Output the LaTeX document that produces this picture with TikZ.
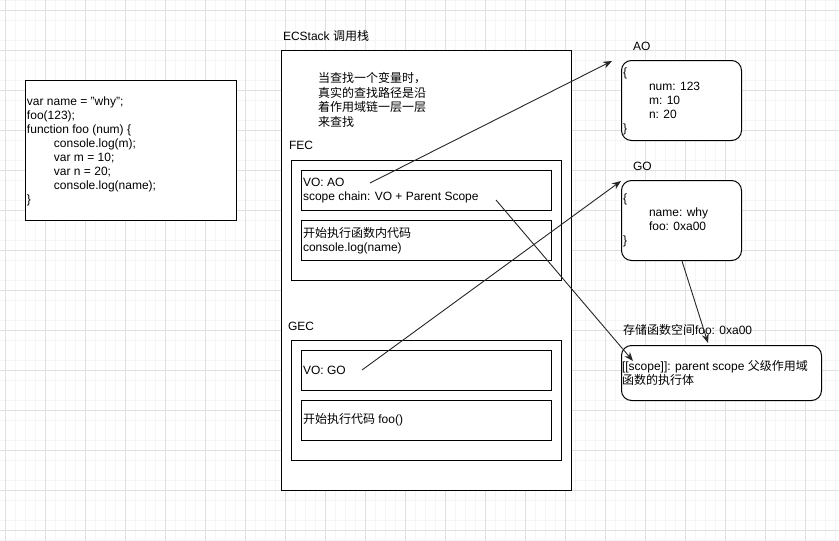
\documentclass[tikz,border=0pt]{standalone}
\usepackage{fontspec}
\setmainfont{Liberation Sans}
\newfontfamily\cjk{Noto Sans CJK SC}
\usetikzlibrary{arrows.meta}

\begin{document}
\begin{tikzpicture}[x=1pt,y=-1pt,
  minorline/.style={draw=black!4, line width=0.8pt},
  majorline/.style={draw=black!12, line width=0.8pt},
  box/.style={draw=black, line width=1pt, anchor=north west, inner sep=0pt},
  roundbox/.style={box, rounded corners=10pt},
  txt/.style={inner sep=0pt, outer sep=0pt, anchor=west, align=left,
    font=\fontsize{12}{14}\selectfont, text=black},
  link/.style={draw=black!85, line width=0.9pt, -{Stealth[length=9pt,width=7pt]}}]

\useasboundingbox (0,0) rectangle (839,541);
\fill[white] (0,0) rectangle (839,541);

% background grid
\foreach \x in {15,25,...,835} \draw[minorline] (\x,0) -- (\x,541);
\foreach \y in {0,20,...,540} \draw[minorline] (0,\y) -- (839,\y);
\foreach \x in {5,45,...,805} \draw[majorline] (\x,0) -- (\x,541);
\foreach \y in {10,50,...,530} \draw[majorline] (0,\y) -- (839,\y);

% source code
\node[box, fill=white, minimum width=211pt, minimum height=140pt] (codebox) at (25,80) {};
\node[txt] (code) at (27,151.5) {var name = "why";\\foo(123);\\function foo (num) \{\\
  \hspace*{27pt}console.log(m);\\\hspace*{27pt}var m = 10;\\\hspace*{27pt}var n = 20;\\
  \hspace*{27pt}console.log(name);\\\}};

% execution context stack
\node[txt] (stacklabel) at (283,36) {ECStack {\cjk 调用栈}};
\node[box, fill=white, minimum width=290pt, minimum height=440pt] (stack) at (281,50) {};
\node[txt, font=\cjk\fontsize{12}{14.6}\selectfont] (note) at (318,100)
  {当查找一个变量时，\\真实的查找路径是沿\\着作用域链一层一层\\来查找};

% function execution context
\node[txt] (feclabel) at (289,145) {FEC};
\node[box, minimum width=270pt, minimum height=120pt] (fec) at (291,160) {};
\node[box, minimum width=250pt, minimum height=40pt] (fecvo) at (301,170) {};
\node[txt] (fecvotext) at (303,191) {VO: AO\\scope chain: VO + Parent Scope};
\node[box, minimum width=250pt, minimum height=40pt] (fecrun) at (301,220) {};
\node[txt] (fecruntext) at (303,241) {{\cjk 开始执行函数内代码}\\console.log(name)};

% global execution context
\node[txt] (geclabel) at (288,326) {GEC};
\node[box, minimum width=270pt, minimum height=120pt] (gec) at (291,340) {};
\node[box, minimum width=250pt, minimum height=40pt] (gecvo) at (301,350) {};
\node[txt] (gecvotext) at (303,370) {VO: GO};
\node[box, minimum width=250pt, minimum height=40pt] (gecrun) at (301,400) {};
\node[txt] (gecruntext) at (303,420) {{\cjk 开始执行代码} foo()};

% activation object
\node[txt] (aolabel) at (633,46) {AO};
\node[roundbox, fill=white, minimum width=120pt, minimum height=80pt] (ao) at (621,60) {};
\node[txt] (aotext) at (623,101) {\{\\\hspace*{26pt}num: 123\\\hspace*{26pt}m: 10\\\hspace*{26pt}n: 20\\\}};

% global object
\node[txt] (golabel) at (633,166) {GO};
\node[roundbox, fill=white, minimum width=120pt, minimum height=80pt] (go) at (621,180) {};
\node[txt] (gotext) at (623,220.5) {\{\\\hspace*{26pt}name: why\\\hspace*{26pt}foo: 0xa00\\\}};

% function object
\node[txt] (fnlabel) at (623,330) {{\cjk 存储函数空间}foo: 0xa00};
\node[roundbox, fill=white, minimum width=200pt, minimum height=55pt] (fn) at (621,345) {};
\node[txt] (fntext) at (622,373) {[[scope]]: parent scope {\cjk 父级作用域}\\{\cjk 函数的执行体}};

% connector ends
\coordinate (aoref) at (370,183);
\coordinate (goref) at (362,370);
\coordinate (scoperef) at (496,200);
\coordinate (aotip) at (612,61);
\coordinate (gotip) at (621,181);
\coordinate (fntip) at (633,361);
\coordinate (gobottom) at (682,261);
\coordinate (fntop) at (708,343);

\draw[link] (aoref) -- (aotip);
\draw[link] (goref) -- (gotip);
\draw[link] (scoperef) -- (fntip);
\draw[link] (gobottom) -- (fntop);
\end{tikzpicture}
\end{document}
